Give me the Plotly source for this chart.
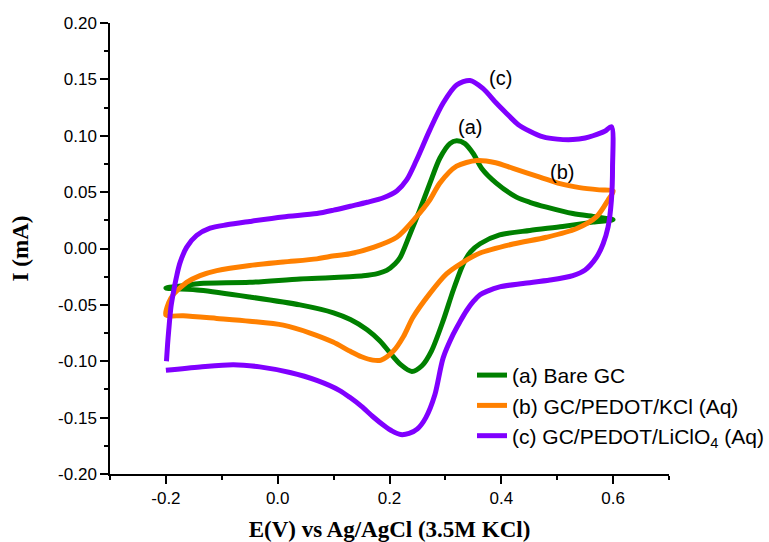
import plotly.graph_objects as go

# ---- data ----
a_x = [-0.2, -0.169, -0.139, -0.05, 0.04, 0.093, 0.129, 0.153, 0.18, 0.195, 0.21, 0.219, 0.236, 0.254,
       0.272, 0.29, 0.308, 0.32, 0.335, 0.35, 0.365, 0.391, 0.427, 0.451, 0.481, 0.528, 0.57, 0.6,
       0.564, 0.51, 0.451, 0.397, 0.362, 0.345, 0.332, 0.314, 0.296, 0.275, 0.258, 0.24, 0.22, 0.2,
       0.183, 0.16, 0.13, 0.1, 0.04, -0.05, -0.139, -0.2]
a_y = [-0.035, -0.033, -0.031, -0.030, -0.027, -0.026, -0.025, -0.0242, -0.022, -0.0194, -0.0135, -0.0080,
       0.012, 0.034, 0.0575, 0.080, 0.093, 0.0955, 0.093, 0.084, 0.071, 0.058, 0.0456, 0.041, 0.0367,
       0.031, 0.028, 0.0255,
       0.0234, 0.0196, 0.016, 0.012, 0.0042, -0.003, -0.0136, -0.037, -0.064, -0.091, -0.104, -0.109,
       -0.103, -0.092, -0.082, -0.072, -0.063, -0.057, -0.050, -0.043, -0.037, -0.035]

b_x = [-0.2, -0.195, -0.187, -0.175, -0.163, -0.139, -0.109, -0.05, 0.01, 0.07, 0.093, 0.129, 0.171,
       0.213, 0.248, 0.272, 0.29, 0.32, 0.356, 0.39, 0.421, 0.469, 0.505, 0.54, 0.575, 0.6,
       0.591, 0.57, 0.534, 0.481, 0.421, 0.362, 0.332, 0.302, 0.272, 0.242, 0.225, 0.207, 0.185, 0.17,
       0.15, 0.129, 0.099, 0.058, 0.01, -0.05, -0.109, -0.169, -0.2]
b_y = [-0.059, -0.048, -0.041, -0.035, -0.030, -0.024, -0.0196, -0.015, -0.012, -0.0092, -0.0071,
       -0.0047, 0.001, 0.010, 0.028, 0.043, 0.058, 0.073, 0.078, 0.076, 0.071, 0.0634, 0.0575, 0.054,
       0.052, 0.051,
       0.043, 0.028, 0.0175, 0.010, 0.004, -0.004, -0.012, -0.0225, -0.040, -0.061, -0.078, -0.091,
       -0.099, -0.099, -0.096, -0.091, -0.083, -0.075, -0.068, -0.0645, -0.062, -0.0596, -0.059]

c_x = [-0.199, -0.197, -0.195, -0.191, -0.187, -0.181, -0.175, -0.163, -0.145, -0.121, -0.091, -0.05,
       0.009, 0.07, 0.1, 0.13, 0.16, 0.189, 0.213, 0.231, 0.248, 0.272, 0.296, 0.32, 0.344, 0.367,
       0.391, 0.409, 0.43, 0.451, 0.475, 0.5, 0.528, 0.55, 0.564, 0.585, 0.597,
       0.599, 0.597, 0.591, 0.582, 0.57, 0.55, 0.528, 0.487, 0.439, 0.397, 0.374, 0.362, 0.35, 0.338,
       0.326, 0.314, 0.296, 0.281, 0.265, 0.25, 0.235, 0.22, 0.205, 0.19, 0.17, 0.15, 0.129, 0.111,
       0.07, 0.022, -0.032, -0.079, -0.139, -0.2]
c_y = [-0.100, -0.085, -0.073, -0.052, -0.040, -0.025, -0.013, 0.001, 0.0116, 0.018, 0.021, 0.024,
       0.028, 0.031, 0.034, 0.0375, 0.041, 0.045, 0.051, 0.061, 0.078, 0.105, 0.129, 0.145, 0.149,
       0.142, 0.129, 0.120, 0.110, 0.104, 0.099, 0.097, 0.0966, 0.098, 0.100, 0.104, 0.108,
       0.072, 0.043, 0.019, 0.004, -0.008, -0.019, -0.024, -0.028, -0.031, -0.034, -0.038, -0.041,
       -0.047, -0.055, -0.065, -0.076, -0.097, -0.130, -0.150, -0.160, -0.164, -0.165, -0.162, -0.157,
       -0.149, -0.140, -0.132, -0.126, -0.117, -0.110, -0.105, -0.103, -0.105, -0.108]

names = ["(a) Bare GC", "(b) GC/PEDOT/KCl (Aq)", "(c) GC/PEDOT/LiClO<sub>4</sub> (Aq)"]
colors = ["#008000", "#FF8000", "#8000FF"]

labels = ["(a)", "(b)", "(c)"]
label_x = [0.344, 0.509, 0.399]
label_y = [0.108, 0.068, 0.151]

x_tickvals = [-0.2, 0.0, 0.2, 0.4, 0.6]
x_ticktext = ["-0.2", "0.0", "0.2", "0.4", "0.6"]
y_tickvals = [-0.20, -0.15, -0.10, -0.05, 0.00, 0.05, 0.10, 0.15, 0.20]
y_ticktext = ["-0.20", "-0.15", "-0.10", "-0.05", "0.00", "0.05", "0.10", "0.15", "0.20"]

fig = go.Figure()
for xs, ys, nm, col in zip([a_x, b_x, c_x], [a_y, b_y, c_y], names, colors):
    fig.add_trace(go.Scatter(x=xs, y=ys, mode="lines", name=nm,
                             line=dict(color=col, width=5, shape="spline", smoothing=0.8)))

for t, lx, ly in zip(labels, label_x, label_y):
    fig.add_annotation(x=lx, y=ly, text=t, showarrow=False,
                       font=dict(family="Liberation Sans, Arial", size=20, color="black"))

axis_common = dict(showline=True, linecolor="black", linewidth=1.5, mirror=False,
                   ticks="outside", ticklen=8, tickwidth=1.5, tickcolor="black",
                   showgrid=False, zeroline=False,
                   tickfont=dict(family="Liberation Sans, Arial", size=17, color="black"))

fig.update_xaxes(range=[-0.3, 0.7], tickmode="array", tickvals=x_tickvals, ticktext=x_ticktext,
                 minor=dict(tickmode="linear", dtick=0.1, tick0=0, ticks="outside", ticklen=4,
                            tickwidth=1.5, tickcolor="black"),
                 title=dict(text="<b>E(V) vs Ag/AgCl (3.5M KCl)</b>", standoff=15,
                            font=dict(family="Liberation Serif, Times New Roman", size=23, color="black")),
                 **axis_common)
fig.update_yaxes(range=[-0.2, 0.2], tickmode="array", tickvals=y_tickvals, ticktext=y_ticktext,
                 minor=dict(tickmode="linear", dtick=0.025, tick0=0, ticks="outside", ticklen=4,
                            tickwidth=1.5, tickcolor="black"),
                 title=dict(text="<b>I (mA)</b>", standoff=23,
                            font=dict(family="Liberation Serif, Times New Roman", size=23, color="black")),
                 **axis_common)

fig.update_layout(
    width=769, height=542,
    margin=dict(l=110, r=100, t=23, b=68, autoexpand=False),
    plot_bgcolor="white", paper_bgcolor="white",
    showlegend=True,
    legend=dict(x=0.6476, y=0.264, xanchor="left", yanchor="top",
                bgcolor="rgba(0,0,0,0)", borderwidth=0,
                font=dict(family="Liberation Sans, Arial", size=21, color="black")),
)

fig.write_html("out.html", config={"displayModeBar": False},
               post_script="document.body.style.margin='0';document.body.style.overflow='hidden';")
